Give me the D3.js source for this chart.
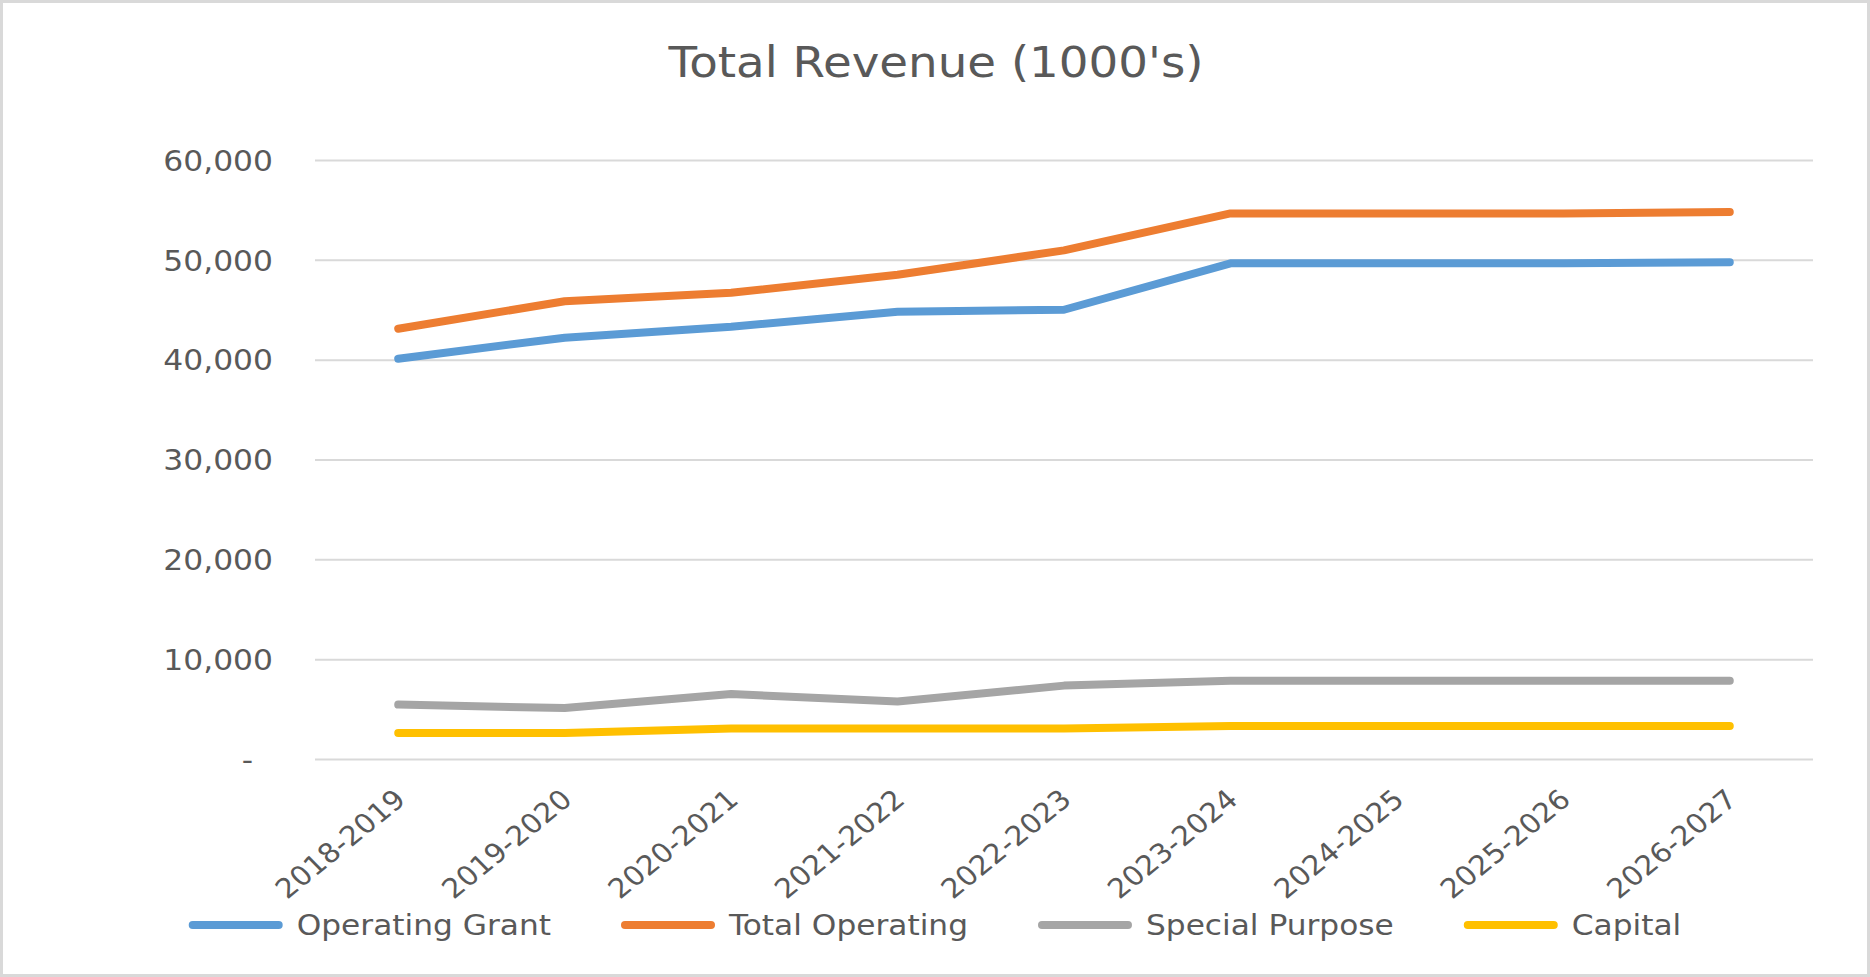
<!DOCTYPE html>
<html>
<head>
<meta charset="utf-8">
<script src="https://cdn.jsdelivr.net/npm/d3@7/dist/d3.min.js"></script>
<style>
  html, body { margin: 0; padding: 0; background: #fff; }
  svg { display: block; }
  text { font-family: 'DejaVu Sans', Verdana, sans-serif; fill: #595959; }
</style>
</head>
<body>
<svg id="chart"></svg>
<script>
const years = ['2018-2019', '2019-2020', '2020-2021', '2021-2022', '2022-2023', '2023-2024', '2024-2025', '2025-2026', '2026-2027']
const operatingGrant = [40100, 42200, 43300, 44800, 45000, 49650, 49650, 49650, 49750]
const totalOperating = [43100, 45850, 46700, 48500, 50950, 54650, 54650, 54650, 54800]
const specialPurpose = [5450, 5100, 6500, 5750, 7350, 7850, 7850, 7850, 7850]
const capital = [2600, 2600, 3050, 3050, 3050, 3300, 3300, 3300, 3300]
const seriesNames = ['Operating Grant', 'Total Operating', 'Special Purpose', 'Capital']
const yTicks = [0, 10000, 20000, 30000, 40000, 50000, 60000]

const colors = ['#5b9bd5', '#ed7d31', '#a5a5a5', '#ffc000']
const series = [operatingGrant, totalOperating, specialPurpose, capital]
  .map((values, i) => ({ name: seriesNames[i], color: colors[i], values }))

const width = 1870
const height = 977
const plot = { left: 315, right: 1813, top: 160, bottom: 759 }
// the original picture is a bit wider than its fonts, so stretch text horizontally
const stretch = 1.1

const svg = d3.select('#chart')
  .attr('width', width)
  .attr('height', height)

svg.append('rect')
  .attr('x', 1.5)
  .attr('y', 1.5)
  .attr('width', width - 3)
  .attr('height', height - 3)
  .attr('fill', '#fff')
  .attr('stroke', '#d9d9d9')
  .attr('stroke-width', 3)

svg.append('text')
  .attr('text-anchor', 'middle')
  .attr('transform', `translate(${width / 2 + 1},77) scale(${stretch},1)`)
  .style('font-size', '42.5px')
  .text("Total Revenue (1000's)")

const x = d3.scalePoint()
  .domain(years)
  .range([plot.left, plot.right])
  .padding(0.5)

const y = d3.scaleLinear()
  .domain([0, 60000])
  .range([plot.bottom, plot.top])

const yAxis = svg.append('g')
  .attr('transform', `translate(${plot.left},0)`)
  .call(d3.axisLeft(y)
    .tickValues(yTicks)
    .tickSize(-(plot.right - plot.left))
    .tickFormat(d => d === 0 ? '-' : d3.format(',')(d)))

yAxis.select('.domain').remove()
yAxis.selectAll('.tick line')
  .attr('stroke', '#d9d9d9')
  .attr('stroke-width', 2)
yAxis.selectAll('.tick text')
  .attr('x', 0)
  .attr('dy', '0.36em')
  .attr('transform', d => `translate(${d === 0 ? -62 : -42},0) scale(${stretch},1)`)
  .style('font-size', '28.5px')
  .attr('fill', '#595959')

const xAxis = svg.append('g')
  .attr('transform', `translate(0,${plot.bottom})`)
  .call(d3.axisBottom(x).tickSize(0))

xAxis.select('.domain').remove()
xAxis.selectAll('.tick text')
  .attr('x', 0)
  .attr('y', 0)
  .attr('dy', '0.73em')
  .attr('text-anchor', 'end')
  .attr('transform', `translate(-6,28) scale(${stretch},1) rotate(-42)`)
  .style('font-size', '27px')
  .attr('fill', '#595959')

const line = d3.line()
  .x((d, i) => x(years[i]))
  .y(d => y(d))

svg.append('g')
  .selectAll('path')
  .data(series)
  .join('path')
  .attr('d', d => line(d.values))
  .attr('fill', 'none')
  .attr('stroke', d => d.color)
  .attr('stroke-width', 8)
  .attr('stroke-linecap', 'round')
  .attr('stroke-linejoin', 'round')

// legend, centred under the chart
const swatch = 86
const textGap = 22
const legendY = 925
const legend = svg.append('g')
const items = legend.selectAll('g')
  .data(series)
  .join('g')

items.append('line')
  .attr('x1', 4)
  .attr('x2', 4 + swatch)
  .attr('y1', 0)
  .attr('y2', 0)
  .attr('stroke', d => d.color)
  .attr('stroke-width', 8)
  .attr('stroke-linecap', 'round')

items.append('text')
  .attr('dy', '0.36em')
  .attr('transform', `translate(${swatch + textGap},0) scale(${stretch},1)`)
  .style('font-size', '28.4px')
  .text(d => d.name)

let offset = 0
const widths = []
items.each(function () {
  const w = swatch + textGap + this.querySelector('text').getComputedTextLength() * stretch
  widths.push(w)
})
const gap = 70
const total = d3.sum(widths) + gap * (widths.length - 1)
offset = width / 2 - total / 2
items.attr('transform', (d, i) => {
  const t = `translate(${offset},${legendY})`
  offset += widths[i] + gap
  return t
})
</script>
</body>
</html>
